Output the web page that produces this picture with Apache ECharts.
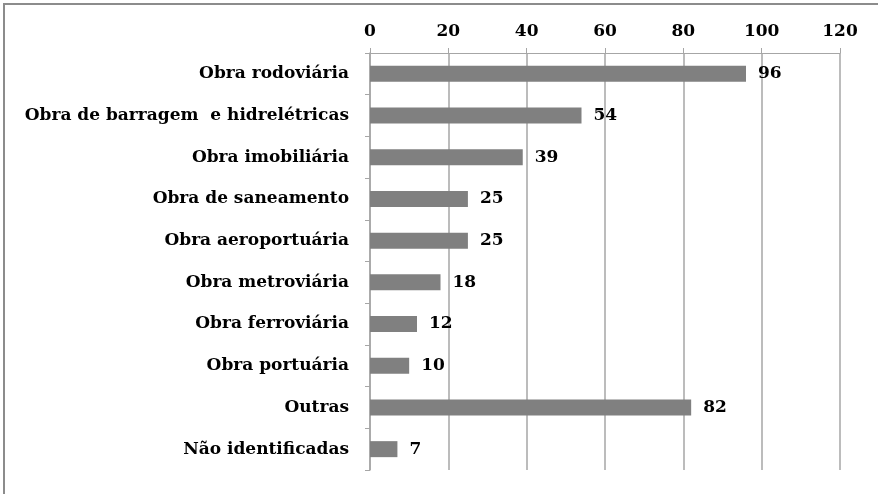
<!DOCTYPE html>
<html>
<head>
<meta charset="utf-8">
<script src="https://cdn.jsdelivr.net/npm/echarts@6/dist/echarts.min.js"></script>
<style>
  html, body { margin: 0; padding: 0; background: #fff; }
  #chart { width: 878px; height: 494px; }
</style>
</head>
<body>
<div id="chart"></div>
<script>
// categorias de cima para baixo
var categories = [
  'Obra rodoviária',
  'Obra de barragem  e hidrelétricas',
  'Obra imobiliária',
  'Obra de saneamento',
  'Obra aeroportuária',
  'Obra metroviária',
  'Obra ferroviária',
  'Obra portuária',
  'Outras',
  'Não identificadas'
];
var values = [96, 54, 39, 25, 25, 18, 12, 10, 82, 7];
var axisMin = 0, axisMax = 120, axisStep = 20;

var font = '"DejaVu Serif", "Liberation Serif", serif';
var chart = echarts.init(document.getElementById('chart'));

var option = {
  animation: false,
  backgroundColor: '#fff',
  graphic: [
    {
      type: 'rect',
      shape: { x: 4, y: 4, width: 900, height: 520 },
      style: { fill: 'none', stroke: '#8c8c8c', lineWidth: 2 },
      silent: true
    }
  ],
  grid: { left: 370, right: 38, top: 53, bottom: 24 },
  xAxis: {
    type: 'value',
    position: 'top',
    min: axisMin,
    max: axisMax,
    interval: axisStep,
    axisLine: { show: true, lineStyle: { color: '#a6a6a6', width: 1 } },
    axisTick: { show: true, length: 5, lineStyle: { color: '#a6a6a6' } },
    splitLine: { show: true, lineStyle: { color: '#a6a6a6', width: 1.5 } },
    axisLabel: {
      color: '#000', fontFamily: font, fontWeight: 'bold', fontSize: 17, margin: 13
    }
  },
  yAxis: {
    type: 'category',
    inverse: true,
    data: categories,
    axisLine: { show: true, lineStyle: { color: '#a6a6a6', width: 1.5 } },
    axisTick: { show: true, length: 5, lineStyle: { color: '#a6a6a6' } },
    axisLabel: {
      color: '#000', fontFamily: font, fontWeight: 'bold', fontSize: 17, margin: 21
    }
  },
  series: [
    {
      type: 'bar',
      data: values,
      barWidth: 16,
      itemStyle: { color: '#808080' },
      label: {
        show: true,
        position: 'right',
        distance: 12,
        color: '#000',
        fontFamily: font,
        fontWeight: 'bold',
        fontSize: 17
      }
    }
  ]
};
chart.setOption(option);
</script>
</body>
</html>
